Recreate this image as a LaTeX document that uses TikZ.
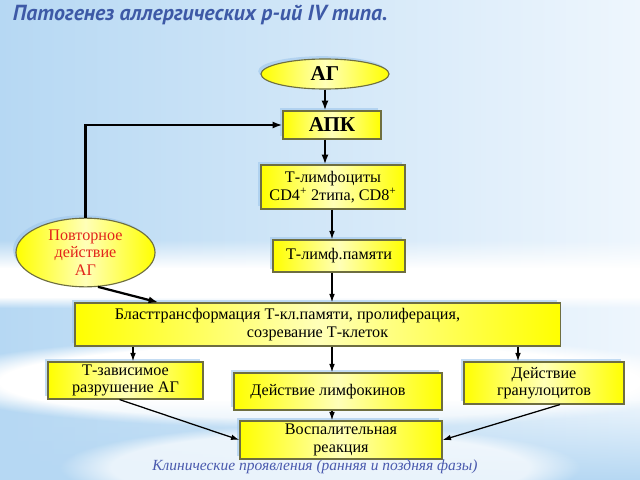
\documentclass[tikz,border=0pt]{standalone}
\usepackage{fontspec}
\setmainfont{Liberation Serif}
\newfontfamily\headfont{PT Sans}
\usetikzlibrary{arrows.meta,shapes.geometric,shadows,fadings}
\definecolor{bgdeep}{HTML}{B6D8F3}
\definecolor{bgmid}{HTML}{C3DFF6}
\definecolor{bgpale}{HTML}{E4F1FC}
\definecolor{bglight}{HTML}{EEF6FD}
\definecolor{yel}{HTML}{FFFF00}
\definecolor{yelpale}{HTML}{FFFFB8}
\definecolor{edge}{HTML}{6E6E40}
\definecolor{shade}{HTML}{9EC6EC}
\definecolor{headblue}{HTML}{3D59A6}
\definecolor{noteblue}{HTML}{4A5AAE}
\definecolor{alarm}{HTML}{E2231A}
\tikzfading[name=band, top color=transparent!100, middle color=transparent!0, bottom color=transparent!100]
\tikzset{
  ybox/.style={draw=edge, line width=0.8pt, left color=yel, right color=yel, middle color=yelpale,
    align=center, inner sep=1pt, font=\fontsize{11.5}{12.5}\selectfont,
    general shadow={fill=shade, opacity=0.6, shadow xshift=-2pt, shadow yshift=2pt}},
  oval/.style={ybox, ellipse},
  big/.style={font=\fontsize{15}{17}\selectfont\bfseries},
  arr/.style={draw=black, line width=0.9pt, -{Latex[length=6pt,width=4pt]}},
  bigarr/.style={draw=black, line width=1.6pt, -{Latex[length=7pt,width=5pt]}},
  head/.style={text=headblue, font=\headfont\itshape\bfseries\fontsize{15.5}{18}\selectfont},
  note/.style={text=noteblue, font=\itshape\fontsize{11}{13}\selectfont},
  glow/.style={white, path fading=circle with fuzzy edge 20 percent},
}
\begin{document}
\begin{tikzpicture}[x=0.025cm, y=-0.025cm]
  \useasboundingbox (0,0) rectangle (640,480);
  % background
  \fill[left color=bgdeep, right color=bglight] (0,0) rectangle (640,480);
  \fill[bgmid, path fading=band] (0,290) rectangle (640,360);
  \fill[white, path fading=north] (0,240) rectangle (640,268);
  \fill[white] (0,268) rectangle (640,297);
  \fill[white, path fading=south] (0,297) rectangle (640,308);
  \fill[glow] (-80,335) rectangle (720,428);
  \fill[bgdeep, path fading=north] (0,400) rectangle (640,480);
  \fill[glow, opacity=0.7] (60,425) rectangle (580,510);

  \coordinate (xa) at (325,0);
  \coordinate (xm) at (332,0);
  \coordinate (xl) at (133,0);
  \coordinate (xr) at (518,0);

  \node[head, anchor=west] (ttl) at (8,15) {Патогенез аллергических р-ий IV типа.};

  \node[oval, big, minimum width=3.2cm, minimum height=0.75cm] (ag) at (325,74) {АГ};
  \node[ybox, big, minimum width=2.45cm, minimum height=0.7cm] (apk) at (332,125) {АПК};
  \node[ybox, minimum width=3.6cm, minimum height=1.1cm] (tly) at (333,187)
    {Т-лимфоциты\\CD4\textsuperscript{+} 2типа, CD8\textsuperscript{+}};
  \node[ybox, minimum width=3.3cm, minimum height=0.8cm] (tmem) at (339,256) {Т-лимф.памяти};
  \node[oval, text=alarm, minimum width=3.475cm, minimum height=1.525cm] (povt) at (85.5,252.5)
    {Повторное\\действие\\АГ};
  \node[ybox, minimum width=12.125cm, minimum height=1.075cm] (blast) at (317.5,324.5)
    {Бласттрансформация Т-кл.памяти, пролиферация,\hspace*{1.5cm}\\созревание Т-клеток};
  \node[ybox, minimum width=3.875cm, minimum height=0.925cm] (tzav) at (125.5,380.5)
    {Т-зависимое\\разрушение АГ};
  \node[ybox, minimum width=5.2cm, minimum height=0.925cm] (lymph) at (338,391.5)
    {Действие лимфокинов\hspace*{0.5cm}};
  \node[ybox, minimum width=4cm, minimum height=1.05cm] (gran) at (544,383)
    {Действие\\гранулоцитов};
  \node[ybox, minimum width=5.05cm, minimum height=0.95cm] (vosp) at (341,440)
    {Воспалительная\\реакция};

  \node[note] (clin) at (315,467) {Клинические проявления (ранняя и поздняя фазы)};

  \draw[bigarr] (ag.south) -- (apk.north -| ag.south);
  \draw[bigarr] (apk.south -| xa) -- (tly.north -| xa);
  \draw[arr] (tly.south -| xm) -- (tmem.north -| xm);
  \draw[arr] (tmem.south -| xm) -- (blast.north -| xm);
  \draw[bigarr] (povt.north) |- (apk.west);
  \draw[bigarr] (povt.-70) -- ([xshift=2.1cm]blast.north west);
  \draw[arr] (blast.south -| xl) -- (tzav.north -| xl);
  \draw[arr] (blast.south -| xm) -- (lymph.north -| xm);
  \draw[arr] (blast.south -| xr) -- (gran.north -| xr);
  \draw[arr] ([xshift=-0.15cm]tzav.south) -- (vosp.west);
  \draw[arr] (lymph.south -| xm) -- (vosp.north -| xm);
  \draw[arr] ([xshift=0.4cm]gran.south) -- (vosp.east);
\end{tikzpicture}
\end{document}
